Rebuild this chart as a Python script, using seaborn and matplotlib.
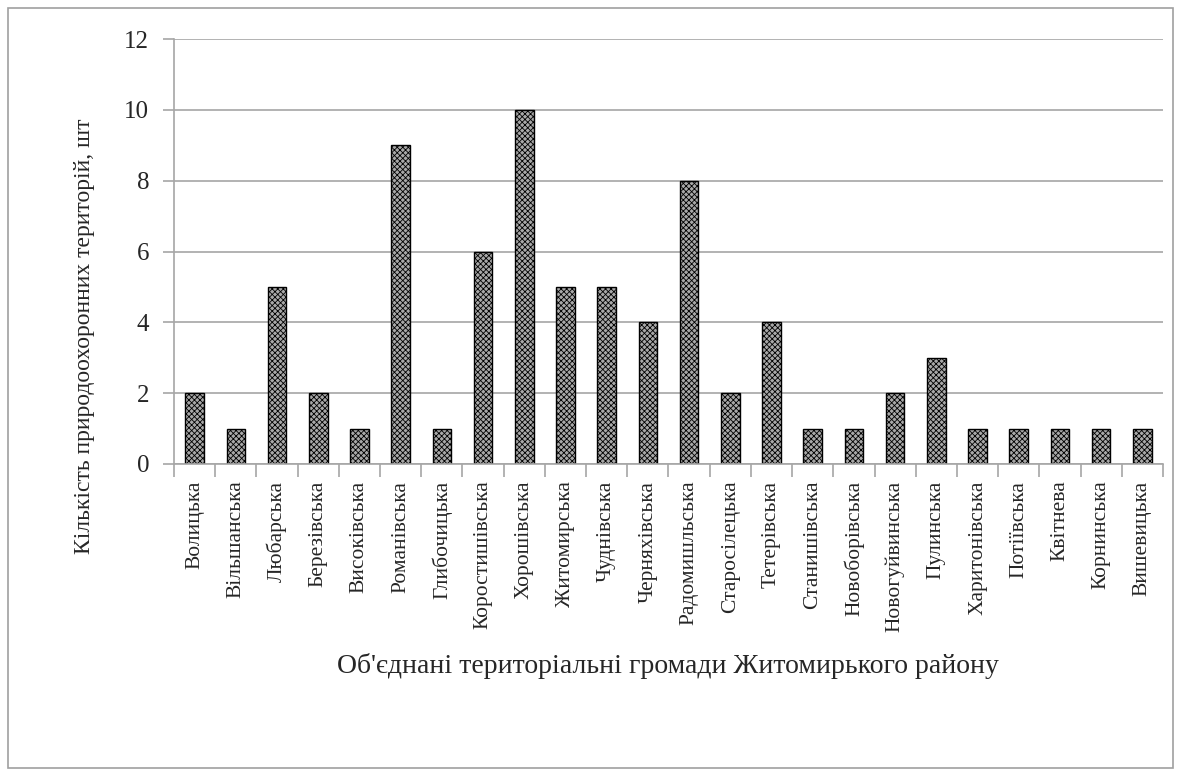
import numpy as np
import pandas as pd
import seaborn as sns
import matplotlib.pyplot as plt
from matplotlib.ticker import FixedLocator

communities = ['Волицька', 'Вільшанська', 'Любарська', 'Березівська', 'Високівська',
               'Романівська', 'Глибочицька', 'Коростишівська', 'Хорошівська', 'Житомирська',
               'Чуднівська', 'Черняхівська', 'Радомишльська', 'Старосілецька', 'Тетерівська',
               'Станишівська', 'Новоборівська', 'Новогуйвинська', 'Пулинська', 'Харитонівська',
               'Потіївська', 'Квітнева', 'Корнинська', 'Вишевицька']
counts = [2, 1, 5, 2, 1, 9, 1, 6, 10, 5, 5, 4, 8, 2, 4, 1, 1, 2, 3, 1, 1, 1, 1, 1]
y_ticks = [0, 2, 4, 6, 8, 10, 12]

df = pd.DataFrame({'community': communities, 'count': counts})

sns.set_theme(style="white")
plt.rcParams['font.family'] = ['Liberation Serif', 'DejaVu Serif']
plt.rcParams['hatch.color'] = '#3a3a3a'
plt.rcParams['hatch.linewidth'] = 0.6

fig = plt.figure(figsize=(11.81, 7.76), dpi=100)
ax = fig.add_axes([174 / 1181, 1 - 464 / 776, (1163 - 174) / 1181, (464 - 39) / 776])

sns.barplot(data=df, x='community', y='count', ax=ax, width=0.45,
            color='#a8a8a8', edgecolor='black', linewidth=1.0, saturation=1)
for p in ax.patches:
    p.set_hatch('xxxxxx')

ax.set_ylim(0, 12)
ax.set_xlim(-0.5, len(communities) - 0.5)
ax.set_yticks(y_ticks)
ax.set_yticklabels([str(v) for v in y_ticks], fontsize=18)
ax.yaxis.grid(True, color='#a6a6a6', linewidth=1.2)
ax.set_axisbelow(True)

ax.set_xticks(range(len(communities)))
ax.set_xticklabels(communities, rotation=90, fontsize=15.5)
ax.xaxis.set_minor_locator(FixedLocator(np.arange(-0.5, len(communities), 1)))
ax.tick_params(axis='x', which='major', length=0, pad=12)
ax.tick_params(axis='x', which='minor', length=9, color='#a6a6a6', width=1.2, direction='out')
ax.tick_params(axis='y', length=8, color='#a6a6a6', width=1.2, direction='out', pad=10)
ax.tick_params(bottom=True, left=True, which='both')

for side in ['top', 'right']:
    ax.spines[side].set_visible(False)
for side in ['left', 'bottom']:
    ax.spines[side].set_color('#a6a6a6')
    ax.spines[side].set_linewidth(1.2)

ax.set_xlabel("Об'єднані територіальні громади Житомирького району", fontsize=20)
ax.set_ylabel('Кількість природоохоронних територій, шт', fontsize=17)
ax.xaxis.set_label_coords(0.4995, -0.445)
ax.yaxis.set_label_coords(-0.080, 0.30)

fig.add_artist(plt.Rectangle((8 / 1181, 8 / 776), 1165 / 1181, 760 / 776, fill=False,
                             edgecolor='#a0a0a0', linewidth=1.2, transform=fig.transFigure))

fig.savefig('out.png', dpi=100)
